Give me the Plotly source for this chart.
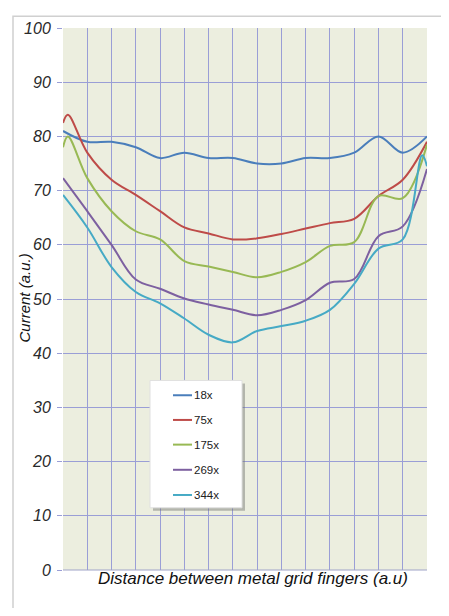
import plotly.graph_objects as go

# Data (x in units of grid columns, 0..15)
x_18 = [0, 1, 2, 3, 4, 5, 6, 7, 8, 9, 10, 11, 12, 13, 14, 15]
y_18 = [81, 79, 79, 78, 76, 77, 76, 76, 75, 75, 76, 76, 77, 80, 77, 80]

x_75 = [0, 0.2, 1, 2, 3, 4, 5, 6, 7, 8, 9, 10, 11, 12, 13, 14, 15]
y_75 = [82.5, 84, 77, 72, 69.2, 66.2, 63.2, 62.1, 61, 61.2, 62, 63, 64, 64.8, 69, 72, 79]

x_175 = [0, 0.2, 1, 2, 3, 4, 5, 6, 7, 8, 9, 10, 11, 12, 13, 14, 15]
y_175 = [78, 80, 72.3, 66.2, 62.5, 61, 57, 56, 55, 54, 55, 56.8, 59.8, 60.5, 69, 68.6, 78.5]

x_269 = [0, 1, 2, 3, 4, 5, 6, 7, 8, 9, 10, 11, 12, 13, 14, 15]
y_269 = [72.3, 66.2, 60, 53.6, 51.9, 50.1, 49, 48, 47, 48, 49.8, 53, 53.7, 61.6, 63.4, 74]

x_344 = [0, 1, 2, 3, 4, 5, 6, 7, 8, 9, 10, 11, 12, 13, 14, 14.8, 15]
y_344 = [69.2, 63.2, 55.9, 51.3, 49.2, 46.4, 43.4, 42, 44.1, 45, 46, 48, 52.8, 59.3, 61, 76.5, 74.5]

names = ["18x", "75x", "175x", "269x", "344x"]
colors = ["#4A7EBB", "#BE4B48", "#98B954", "#7D60A0", "#46AAC5"]
y_ticks = [0, 10, 20, 30, 40, 50, 60, 70, 80, 90, 100]
x_title = "Distance between metal grid fingers (a.u)"
y_title = "Current (a.u.)"

series = [(x_18, y_18), (x_75, y_75), (x_175, y_175), (x_269, y_269), (x_344, y_344)]

fig = go.Figure()
for (xs, ys), n, c in zip(series, names, colors):
    fig.add_trace(go.Scatter(x=xs, y=ys, name=n, mode="lines", showlegend=False,
                             line=dict(color=c, width=2, shape="spline", smoothing=1.0)))

grid = "#9A9ED6"
fig.update_layout(
    width=433, height=600,
    margin=dict(l=55, r=14, t=13, b=38),
    paper_bgcolor="white",
    plot_bgcolor="#ECEEDF",
    font=dict(family="Liberation Sans, Arial, sans-serif", color="#222222"),
    xaxis=dict(range=[0, 15], dtick=1, tick0=0, showticklabels=False, showgrid=True,
               gridcolor=grid, gridwidth=1, zeroline=False, showline=False, ticks=""),
    yaxis=dict(range=[0, 100], tickvals=y_ticks, ticktext=[f"<i>{v}</i>" for v in y_ticks],
               tickfont=dict(size=16, color="#2a2a2a"), ticklabelstandoff=3,
               showgrid=True, gridcolor=grid, gridwidth=1, zeroline=False,
               showline=False, ticks="outside", ticklen=5, tickcolor=grid),
    showlegend=False,
)

def px_x(p):
    return (p - 63) / 364.0

def px_y(p):
    return (570 - p) / 549.0

# outer chart border
fig.add_shape(type="rect", xref="paper", yref="paper",
              x0=px_x(13), x1=px_x(470), y0=px_y(640), y1=px_y(9),
              fillcolor="rgba(0,0,0,0)", line=dict(color="#D0D0D0", width=1.5), layer="below")
fig.add_shape(type="line", xref="paper", yref="paper", x0=0, x1=1, y0=0, y1=0,
              line=dict(color="#A0A4C8", width=1), layer="above")

# legend box with shadow
fig.add_shape(type="rect", xref="paper", yref="paper",
              x0=px_x(153), x1=px_x(245), y0=px_y(510), y1=px_y(381),
              fillcolor="rgba(110,110,110,0.45)", line=dict(width=0), layer="above")
fig.add_shape(type="rect", xref="paper", yref="paper",
              x0=px_x(150), x1=px_x(242), y0=px_y(507), y1=px_y(378),
              fillcolor="white", line=dict(color="#E0E0E0", width=1), layer="above")
entry_y = [393, 418, 443, 468.5, 494]
for n, c, ey in zip(names, colors, entry_y):
    fig.add_shape(type="line", xref="paper", yref="paper",
                  x0=px_x(173), x1=px_x(192), y0=px_y(ey), y1=px_y(ey),
                  line=dict(color=c, width=2), layer="above")
    fig.add_annotation(xref="paper", yref="paper", x=px_x(192), y=px_y(ey),
                       xanchor="left", yanchor="middle", showarrow=False, text=n,
                       font=dict(size=11.5, color="#222222"))

# axis titles
fig.add_annotation(xref="paper", yref="paper", x=px_x(253), y=px_y(579),
                   xanchor="center", yanchor="middle", showarrow=False,
                   text=f"<i>{x_title}</i>", font=dict(size=17, color="#111111"))
fig.add_annotation(xref="paper", yref="paper", x=px_x(25), y=px_y(295),
                   xanchor="center", yanchor="middle", showarrow=False, textangle=-90,
                   text=f"<i>{y_title}</i>", font=dict(size=15, color="#111111"))

fig.write_html("out.html")
